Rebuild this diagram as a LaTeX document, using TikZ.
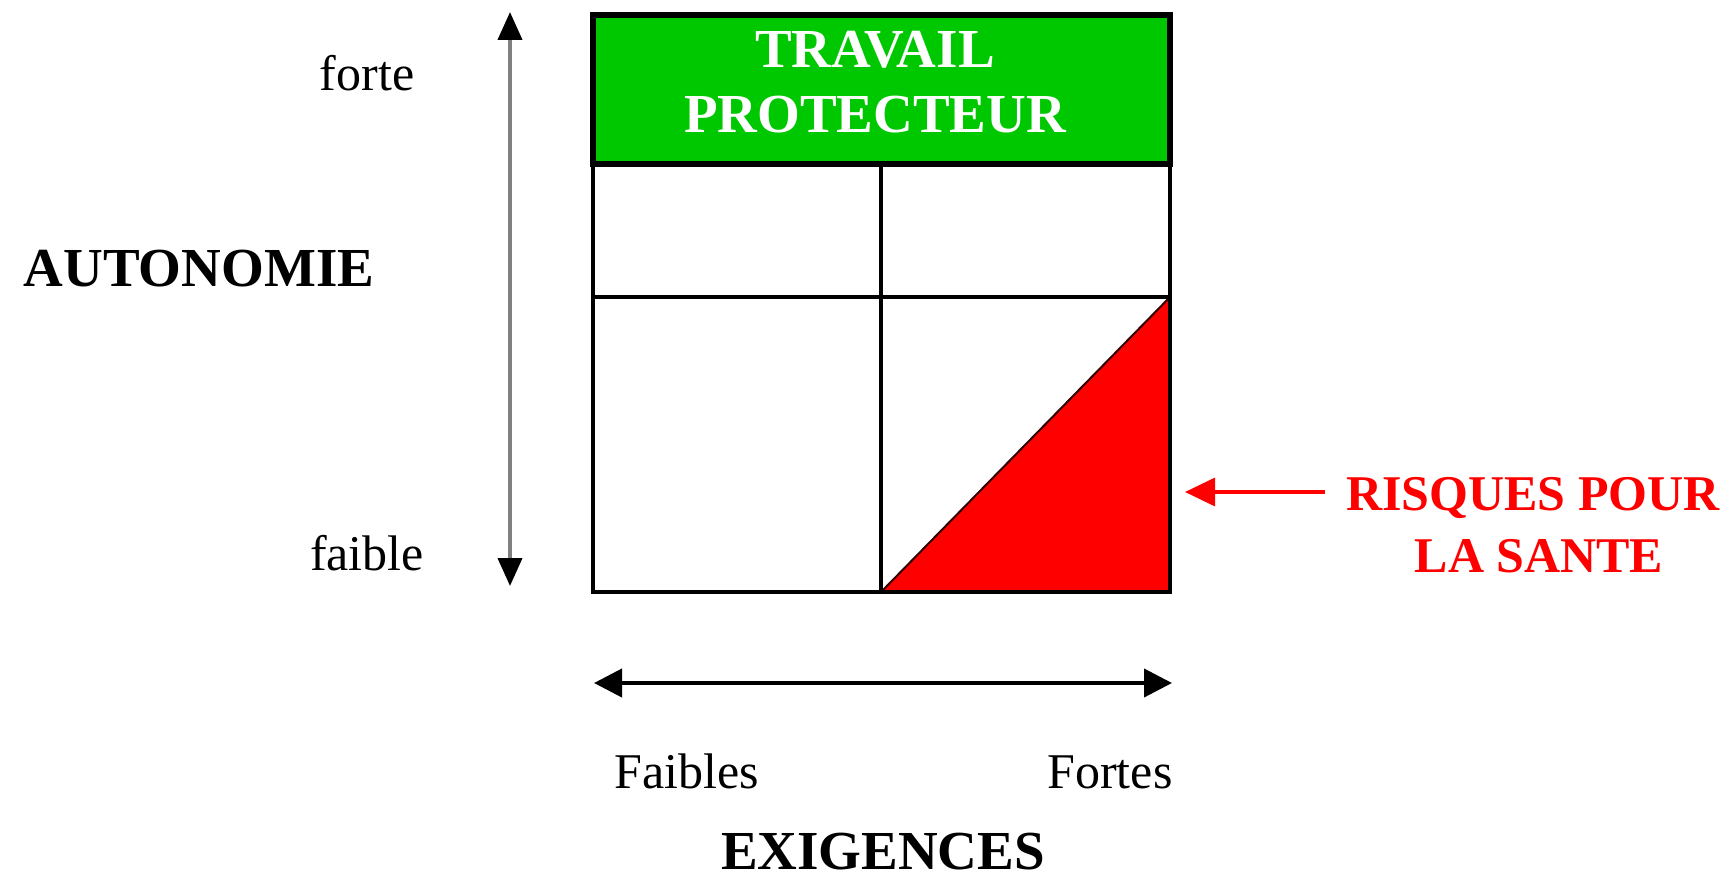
\documentclass[tikz,border=0pt]{standalone}
\usepackage{fontspec}
\setmainfont{Liberation Serif}
\usetikzlibrary{arrows.meta}
\definecolor{boxgreen}{RGB}{0,200,0}
\definecolor{arrowgray}{RGB}{128,128,128}
\tikzset{
  lbl/.style={anchor=base, inner sep=0pt, font=\fontsize{50}{55}\selectfont},
  head/.style={anchor=base, inner sep=0pt, font=\fontsize{55}{60}\selectfont\bfseries},
  redlbl/.style={anchor=base, inner sep=0pt, text=red, font=\fontsize{50}{55}\selectfont\bfseries},
  grid/.style={line width=4pt, black},
}
\begin{document}
\begin{tikzpicture}[x=1pt,y=-1pt]
\useasboundingbox (0,0) rectangle (1736,882);
% green header
\fill[boxgreen] (593,15) rectangle (1170,164);
% red triangle
\filldraw[fill=red, draw=black!80!red, line width=2pt] (881,592) -- (1170,592) -- (1170,297) -- cycle;
% grid
\draw[grid] (593,164) rectangle (1170,592);
\draw[grid] (593,297) -- (1170,297);
\draw[grid] (881,164) -- (881,592);
\draw[line width=6pt] (593,15) rectangle (1170,164);
% header text
\node[head, text=white] (t1) at (875,68) {TRAVAIL};
\node[head, text=white] (t2) at (875,133) {PROTECTEUR};
% vertical axis
\coordinate (vtop) at (510,12);
\coordinate (vbot) at (510,586);
\draw[arrowgray, line width=4pt, {Triangle[length=28pt,width=24pt,black]}-{Triangle[length=28pt,width=24pt,black]}] (vtop) -- (vbot);
\node[lbl] (forte) at (367,91) {forte};
\node[lbl] (faible) at (367,570) {faible};
\node[head] (auto) at (199,287) {AUTONOMIE};
% horizontal axis
\coordinate (hl) at (594,683);
\coordinate (hr) at (1172,683);
\draw[line width=4pt, {Triangle[length=28pt,width=28pt]}-{Triangle[length=28pt,width=28pt]}] (hl) -- (hr);
\node[lbl] (faibles) at (687,788) {Faibles};
\node[lbl] (fortes) at (1110,788) {Fortes};
\node[head] (exig) at (883,869) {EXIGENCES};
% risk arrow
\coordinate (rs) at (1325,492);
\coordinate (re) at (1185,492);
\draw[red, line width=3.5pt, -{Triangle[length=30pt,width=28pt]}] (rs) -- (re);
\node[redlbl] (r1) at (1533,510) {RISQUES POUR};
\node[redlbl] (r2) at (1539,572) {LA SANTE};
\end{tikzpicture}
\end{document}
